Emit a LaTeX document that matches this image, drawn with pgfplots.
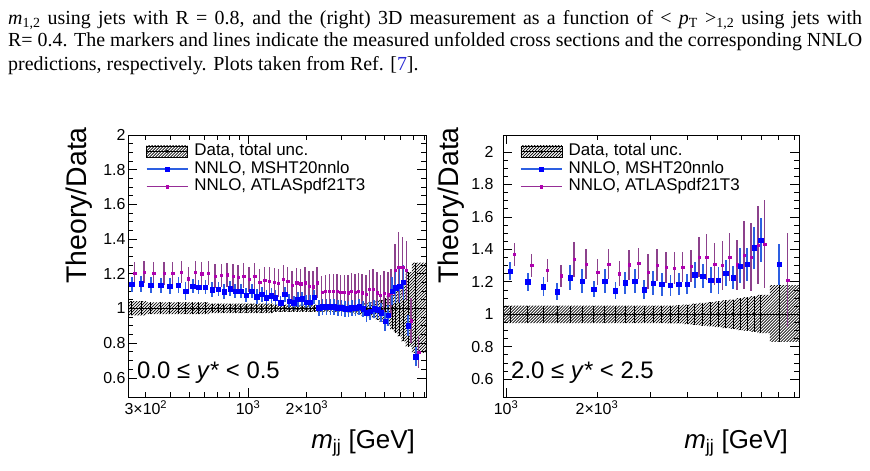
\documentclass[border=0pt]{standalone}
\usepackage{fontspec}
\setmainfont{Liberation Serif}
\newfontfamily\helv{Liberation Sans}
\usepackage{pgfplots}
\usepackage{pgfplotstable}
\pgfplotsset{compat=1.18}
\usetikzlibrary{patterns}
\pgfdeclarepatternformonly{hatchNE}{\pgfqpoint{-1pt}{-1pt}}{\pgfqpoint{4pt}{4pt}}{\pgfqpoint{3pt}{3pt}}%
{\pgfsetlinewidth{0.7pt}\pgfpathmoveto{\pgfqpoint{0pt}{0pt}}\pgfpathlineto{\pgfqpoint{3.1pt}{3.1pt}}\pgfusepath{stroke}}
\definecolor{bluebar}{RGB}{45,95,225}
\definecolor{blumark}{RGB}{0,0,255}
\definecolor{magbar}{RGB}{140,65,140}
\definecolor{magmark}{RGB}{175,0,175}
\definecolor{linkblue}{RGB}{40,40,210}

\pgfplotstableread{
x y e
254 1.139 0.045
284 1.143 0.045
318 1.135 0.045
358 1.133 0.045
398 1.129 0.045
440 1.135 0.045
479 1.100 0.050
521 1.129 0.042
559 1.124 0.042
605 1.124 0.042
654 1.108 0.042
705 1.112 0.042
753 1.097 0.042
809 1.114 0.042
858 1.100 0.042
918 1.100 0.042
977 1.077 0.042
1045 1.100 0.042
1108 1.068 0.042
1176 1.081 0.042
1243 1.062 0.042
1318 1.075 0.042
1382 1.062 0.042
1467 1.033 0.042
1543 1.081 0.042
1623 1.042 0.042
1716 1.033 0.042
1799 1.052 0.042
1892 1.056 0.042
1984 1.037 0.042
2080 1.037 0.042
2181 1.066 0.042
2305 1.004 0.045
2408 1.010 0.045
2524 1.010 0.045
2646 1.010 0.045
2761 1.010 0.045
2884 1.004 0.045
3013 1.004 0.045
3133 0.998 0.045
3273 0.998 0.045
3402 1.004 0.045
3554 1.004 0.045
3709 1.010 0.045
3875 0.998 0.048
4048 0.975 0.050
4223 0.985 0.050
4412 0.998 0.050
4609 0.994 0.052
4809 0.975 0.055
5023 0.926 0.055
5223 0.960 0.060
5457 1.100 0.080
5701 1.120 0.090
5976 1.130 0.100
6236 1.150 0.100
6592 0.900 0.060
7220 0.723 0.055
}\leftBlue

\pgfplotstableread{
x y e
263 1.203 0.065
294 1.211 0.065
329 1.203 0.065
371 1.203 0.065
412 1.203 0.065
455 1.211 0.065
496 1.172 0.065
539 1.207 0.065
579 1.201 0.065
626 1.203 0.068
677 1.188 0.068
730 1.191 0.068
779 1.195 0.070
837 1.184 0.070
888 1.180 0.070
950 1.188 0.072
1011 1.168 0.072
1082 1.188 0.075
1147 1.153 0.075
1217 1.164 0.075
1287 1.159 0.078
1364 1.153 0.078
1430 1.145 0.080
1518 1.168 0.080
1597 1.159 0.082
1680 1.133 0.082
1776 1.149 0.085
1862 1.143 0.085
1958 1.149 0.088
2053 1.129 0.088
2153 1.126 0.090
2257 1.149 0.090
2386 1.095 0.095
2492 1.100 0.095
2612 1.100 0.098
2739 1.100 0.098
2858 1.100 0.100
2985 1.095 0.100
3118 1.095 0.100
3243 1.091 0.102
3388 1.100 0.102
3521 1.095 0.105
3678 1.100 0.105
3839 1.091 0.108
4011 1.081 0.110
4190 1.110 0.112
4371 1.110 0.115
4566 1.091 0.118
4770 1.075 0.120
4977 1.090 0.125
5199 1.080 0.130
5406 1.090 0.140
5648 1.222 0.150
5901 1.240 0.200
6185 1.240 0.170
6454 1.220 0.170
6823 0.930 0.130
7475 0.750 0.090
}\leftMag

\pgfplotstableread{
x up lo
254 1.042 0.960
284 1.042 0.960
318 1.035 0.967
358 1.035 0.967
398 1.035 0.967
440 1.035 0.967
479 1.035 0.967
521 1.035 0.967
559 1.035 0.967
605 1.035 0.967
654 1.028 0.973
705 1.028 0.973
753 1.028 0.973
809 1.028 0.973
858 1.028 0.973
918 1.028 0.973
977 1.028 0.973
1045 1.028 0.973
1108 1.028 0.973
1176 1.028 0.973
1243 1.028 0.973
1318 1.028 0.973
1382 1.022 0.980
1467 1.022 0.980
1543 1.022 0.980
1623 1.022 0.980
1716 1.022 0.980
1799 1.022 0.980
1892 1.022 0.980
1984 1.022 0.980
2080 1.022 0.980
2181 1.022 0.980
2305 1.022 0.980
2408 1.022 0.980
2524 1.022 0.980
2646 1.022 0.980
2761 1.022 0.980
2884 1.022 0.980
3013 1.022 0.980
3133 1.022 0.980
3273 1.022 0.978
3402 1.024 0.975
3554 1.025 0.970
3709 1.027 0.965
3875 1.030 0.960
4048 1.033 0.955
4223 1.036 0.950
4412 1.040 0.944
4609 1.045 0.935
4809 1.050 0.925
5023 1.060 0.915
5223 1.070 0.900
5457 1.085 0.880
5701 1.100 0.860
5976 1.120 0.840
6236 1.150 0.810
6592 1.210 0.780
7220 1.265 0.745
}\leftData

\pgfplotstableread{
x y
243 1.042
254 1.042
284 1.042
318 1.035
358 1.035
398 1.035
440 1.035
479 1.035
521 1.035
559 1.035
605 1.035
654 1.028
705 1.028
753 1.028
809 1.028
858 1.028
918 1.028
977 1.028
1045 1.028
1108 1.028
1176 1.028
1243 1.028
1318 1.028
1382 1.022
1467 1.022
1543 1.022
1623 1.022
1716 1.022
1799 1.022
1892 1.022
1984 1.022
2080 1.022
2181 1.022
2305 1.022
2408 1.022
2524 1.022
2646 1.022
2761 1.022
2884 1.022
3013 1.022
3133 1.022
3273 1.022
3402 1.024
3554 1.025
3709 1.027
3875 1.030
4048 1.033
4223 1.036
4412 1.040
4609 1.045
4809 1.050
5023 1.060
5223 1.070
5457 1.085
5701 1.100
5976 1.120
6236 1.150
6592 1.210
7220 1.265
8150 1.265
8150 0.745
7220 0.745
6592 0.780
6236 0.810
5976 0.840
5701 0.860
5457 0.880
5223 0.900
5023 0.915
4809 0.925
4609 0.935
4412 0.944
4223 0.950
4048 0.955
3875 0.960
3709 0.965
3554 0.970
3402 0.975
3273 0.978
3133 0.980
3013 0.980
2884 0.980
2761 0.980
2646 0.980
2524 0.980
2408 0.980
2305 0.980
2181 0.980
2080 0.980
1984 0.980
1892 0.980
1799 0.980
1716 0.980
1623 0.980
1543 0.980
1467 0.980
1382 0.980
1318 0.973
1243 0.973
1176 0.973
1108 0.973
1045 0.973
977 0.973
918 0.973
858 0.973
809 0.973
753 0.973
705 0.973
654 0.973
605 0.967
559 0.967
521 0.967
479 0.967
440 0.967
398 0.967
358 0.967
318 0.967
284 0.960
254 0.960
243 0.960
}\leftPoly

\pgfplotstableread{
x y e
1031 1.265 0.055
1180 1.200 0.057
1329 1.170 0.057
1475 1.140 0.051
1630 1.225 0.077
1785 1.205 0.072
1951 1.155 0.051
2122 1.205 0.075
2302 1.145 0.051
2478 1.195 0.068
2668 1.205 0.075
2864 1.152 0.060
3068 1.193 0.072
3280 1.185 0.072
3500 1.180 0.065
3732 1.187 0.067
3975 1.187 0.064
4218 1.243 0.082
4480 1.235 0.072
4763 1.210 0.080
5047 1.210 0.082
5338 1.255 0.082
5645 1.226 0.072
5957 1.298 0.108
6282 1.308 0.103
6624 1.410 0.128
6971 1.458 0.135
8015 1.308 0.128
}\rightBlue

\pgfplotstableread{
x y e
1065 1.368 0.069
1216 1.302 0.070
1370 1.270 0.072
1520 1.238 0.067
1680 1.337 0.108
1840 1.309 0.093
2011 1.260 0.080
2187 1.309 0.093
2373 1.250 0.077
2554 1.306 0.093
2750 1.313 0.096
2952 1.261 0.108
3162 1.302 0.098
3381 1.288 0.093
3608 1.286 0.100
3846 1.292 0.093
4097 1.296 0.098
4347 1.352 0.125
4617 1.352 0.140
4909 1.309 0.130
5202 1.302 0.150
5502 1.352 0.150
5818 1.305 0.154
6140 1.364 0.210
6475 1.354 0.210
6827 1.426 0.240
7185 1.434 0.270
8560 1.210 0.290
}\rightMag

\pgfplotstableread{
x up lo
1031 1.053 0.945
1180 1.053 0.945
1329 1.053 0.945
1475 1.053 0.945
1630 1.053 0.945
1785 1.053 0.945
1951 1.053 0.945
2122 1.053 0.945
2302 1.053 0.945
2478 1.053 0.945
2668 1.053 0.945
2864 1.053 0.945
3068 1.053 0.945
3280 1.054 0.945
3500 1.054 0.944
3732 1.055 0.944
3975 1.060 0.940
4218 1.065 0.935
4480 1.070 0.930
4763 1.075 0.925
5047 1.080 0.920
5338 1.085 0.915
5645 1.090 0.910
5957 1.100 0.903
6282 1.105 0.897
6624 1.112 0.892
6971 1.120 0.883
8015 1.180 0.830
}\rightData

\pgfplotstableread{
x y
977 1.053
1031 1.053
1180 1.053
1329 1.053
1475 1.053
1630 1.053
1785 1.053
1951 1.053
2122 1.053
2302 1.053
2478 1.053
2668 1.053
2864 1.053
3068 1.053
3280 1.054
3500 1.054
3732 1.055
3975 1.060
4218 1.065
4480 1.070
4763 1.075
5047 1.080
5338 1.085
5645 1.090
5957 1.100
6282 1.105
6624 1.112
6971 1.120
8015 1.180
9333 1.180
9333 0.830
8015 0.830
6971 0.883
6624 0.892
6282 0.897
5957 0.903
5645 0.910
5338 0.915
5047 0.920
4763 0.925
4480 0.930
4218 0.935
3975 0.940
3732 0.944
3500 0.944
3280 0.945
3068 0.945
2864 0.945
2668 0.945
2478 0.945
2302 0.945
2122 0.945
1951 0.945
1785 0.945
1630 0.945
1475 0.945
1329 0.945
1180 0.945
1031 0.945
977 0.945
}\rightPoly

\begin{document}
\begin{tikzpicture}
\useasboundingbox (0,0) rectangle (870bp,-471bp);

\node[anchor=base west, inner sep=0] at (8bp,-24bp) {\fontsize{20}{23}\selectfont\makebox[854bp][s]{\textit{m}\textsubscript{1,2} using jets with R = 0.8, and the (right) 3D measurement as a function of < \textit{p}\textsubscript{T} >\textsubscript{1,2} using jets with}};
\node[anchor=base west, inner sep=0] at (8bp,-46.7bp) {\fontsize{20}{23}\selectfont\makebox[854bp][s]{R= 0.4. The markers and lines indicate the measured unfolded cross sections and the corresponding NNLO}};
\node[anchor=base west, inner sep=0] at (8bp,-70bp) {\fontsize{20}{23}\selectfont predictions, respectively. Plots taken from Ref. [{\color{linkblue}7}].};

% ---------------- left axis ----------------
\begin{axis}[
  scale only axis, xmode=log, ymin=0.49,
  axis line style={line width=1bp},
  tick style={black, line width=0.8bp},
  major tick length=9bp, minor tick length=5bp, tick align=inside,
  ytick={0.6,0.8,1,1.2,1.4,1.6,1.8,2},
  yticklabels={0.6,0.8,1,1.2,1.4,1.6,1.8,2},
  minor y tick num=3,
  tick label style={font=\helv\fontsize{16}{16}\selectfont},
  at={(128bp,-397bp)}, anchor=south west,
  width=298bp, height=262bp,
  xmin=243, xmax=8150, ymax=2,
  xtick={1000}, xticklabels={10\textsuperscript{3}},
  extra x ticks={300,2000},
  extra x tick labels={3×10\textsuperscript{2},2×10\textsuperscript{3}},
  extra x tick style={major tick length=5bp},
  minor xtick={300,400,500,600,700,800,900,2000,3000,4000,5000,6000,7000,8000},
  yticklabel style={xshift=1bp},
  legend cell align=left,
  legend style={draw=none, fill=none, inner sep=0pt, outer sep=0pt,
    font=\helv\fontsize{17}{17}\selectfont, row sep=2.1bp,
    nodes={inner sep=0pt, text height=12bp, text depth=3.5bp},
    /tikz/every odd column/.append style={column sep=6bp},
    at={(rel axis cs:0.06,0.967)}, anchor=north west},
]
\addlegendimage{legend image code/.code={
      \fill[pattern=hatchNE] (0bp,-5.5bp) rectangle (41bp,5.5bp);
      \draw[line width=1.3bp] (0bp,0bp) -- (41bp,0bp);
      \fill (20.5bp,0bp) circle (1.3bp);}}
\addlegendentry{Data, total unc.}
\addlegendimage{legend image code/.code={
      \draw[bluebar, line width=1.5bp] (0bp,0bp) -- (41bp,0bp);
      \fill[blumark] (18.3bp,-2.2bp) rectangle (22.7bp,2.2bp);}}
\addlegendentry{NNLO, MSHT20nnlo}
\addlegendimage{legend image code/.code={
      \draw[magbar!70!magmark, line width=1.5bp] (0bp,0bp) -- (41bp,0bp);
      \fill[magmark] (19.4bp,-1.2bp) rectangle (21.6bp,1.2bp);}}
\addlegendentry{NNLO, ATLASpdf21T3}

\addplot[const plot mark mid, draw=none, pattern=hatchNE, pattern color=black, forget plot] table[x=x, y=y] {\leftPoly};
\addplot[black, line width=1.4bp, forget plot] coordinates {(243,1) (8150,1)};
\addplot[only marks, mark=*, mark size=1.1bp, black, forget plot,
  error bars/.cd, y dir=both, y explicit, error mark=none,
  error bar style={black, line width=0.9bp}]
  table[x=x, y expr=1, y error plus expr=\thisrow{up}-1, y error minus expr=1-\thisrow{lo}] {\leftData};
\addplot[only marks, mark=square*, mark size=1.1bp, magmark, forget plot,
  error bars/.cd, y dir=both, y explicit, error mark=none,
  error bar style={magbar, line width=1.4bp}]
  table[x=x, y=y, y error=e] {\leftMag};
\addplot[only marks, mark=square*, mark size=2.2bp, blumark, forget plot,
  error bars/.cd, y dir=both, y explicit, error mark=none,
  error bar style={bluebar, line width=1.6bp}]
  table[x=x, y=y, y error=e] {\leftBlue};
\end{axis}

% ---------------- right axis ----------------
\begin{axis}[
  scale only axis, xmode=log, ymin=0.49,
  axis line style={line width=1bp},
  tick style={black, line width=0.8bp},
  major tick length=9bp, minor tick length=5bp, tick align=inside,
  ytick={0.6,0.8,1,1.2,1.4,1.6,1.8,2},
  yticklabels={0.6,0.8,1,1.2,1.4,1.6,1.8,2},
  minor y tick num=3,
  tick label style={font=\helv\fontsize{16}{16}\selectfont},
  at={(503bp,-397bp)}, anchor=south west,
  width=296bp, height=262bp,
  xmin=977, xmax=9333, ymax=2.105,
  xtick={1000}, xticklabels={10\textsuperscript{3}},
  extra x ticks={2000},
  extra x tick labels={2×10\textsuperscript{3}},
  extra x tick style={major tick length=5bp},
  minor xtick={2000,3000,4000,5000,6000,7000,8000,9000},
  yticklabel style={xshift=-6bp},
  legend cell align=left,
  legend style={draw=none, fill=none, inner sep=0pt, outer sep=0pt,
    font=\helv\fontsize{17}{17}\selectfont, row sep=2.1bp,
    nodes={inner sep=0pt, text height=12bp, text depth=3.5bp},
    /tikz/every odd column/.append style={column sep=6bp},
    at={(rel axis cs:0.058,0.967)}, anchor=north west},
]
\addlegendimage{legend image code/.code={
      \fill[pattern=hatchNE] (0bp,-5.5bp) rectangle (41bp,5.5bp);
      \draw[line width=1.3bp] (0bp,0bp) -- (41bp,0bp);
      \fill (20.5bp,0bp) circle (1.3bp);}}
\addlegendentry{Data, total unc.}
\addlegendimage{legend image code/.code={
      \draw[bluebar, line width=1.5bp] (0bp,0bp) -- (41bp,0bp);
      \fill[blumark] (18.3bp,-2.2bp) rectangle (22.7bp,2.2bp);}}
\addlegendentry{NNLO, MSHT20nnlo}
\addlegendimage{legend image code/.code={
      \draw[magbar!70!magmark, line width=1.5bp] (0bp,0bp) -- (41bp,0bp);
      \fill[magmark] (19.4bp,-1.2bp) rectangle (21.6bp,1.2bp);}}
\addlegendentry{NNLO, ATLASpdf21T3}

\addplot[const plot mark mid, draw=none, pattern=hatchNE, pattern color=black, forget plot] table[x=x, y=y] {\rightPoly};
\addplot[black, line width=1.4bp, forget plot] coordinates {(977,1) (9333,1)};
\addplot[only marks, mark=*, mark size=1.1bp, black, forget plot,
  error bars/.cd, y dir=both, y explicit, error mark=none,
  error bar style={black, line width=0.9bp}]
  table[x=x, y expr=1, y error plus expr=\thisrow{up}-1, y error minus expr=1-\thisrow{lo}] {\rightData};
\addplot[only marks, mark=square*, mark size=1.1bp, magmark, forget plot,
  error bars/.cd, y dir=both, y explicit, error mark=none,
  error bar style={magbar, line width=1.4bp}]
  table[x=x, y=y, y error=e] {\rightMag};
\addplot[only marks, mark=square*, mark size=2.2bp, blumark, forget plot,
  error bars/.cd, y dir=both, y explicit, error mark=none,
  error bar style={bluebar, line width=1.6bp}]
  table[x=x, y=y, y error=e] {\rightBlue};
\end{axis}

\node[rotate=90, anchor=base east, inner sep=0, font=\helv\fontsize{28.5}{28.5}\selectfont] at (86.5bp,-127bp) {Theory/Data};
\node[rotate=90, anchor=base east, inner sep=0, font=\helv\fontsize{28.5}{28.5}\selectfont] at (458bp,-127bp) {Theory/Data};
\node[anchor=base east, inner sep=0, font=\helv\fontsize{26}{26}\selectfont] at (415bp,-448bp) {\textit{m}\textsubscript{jj} [GeV]};
\node[anchor=base east, inner sep=0, font=\helv\fontsize{26}{26}\selectfont] at (788bp,-448bp) {\textit{m}\textsubscript{jj} [GeV]};
\node[anchor=base west, inner sep=0, font=\helv\fontsize{24}{24}\selectfont] at (137bp,-378bp) {0.0 ≤ \textit{y}* < 0.5};
\node[anchor=base west, inner sep=0, font=\helv\fontsize{24}{24}\selectfont] at (511bp,-378bp) {2.0 ≤ \textit{y}* < 2.5};
\end{tikzpicture}
\end{document}
